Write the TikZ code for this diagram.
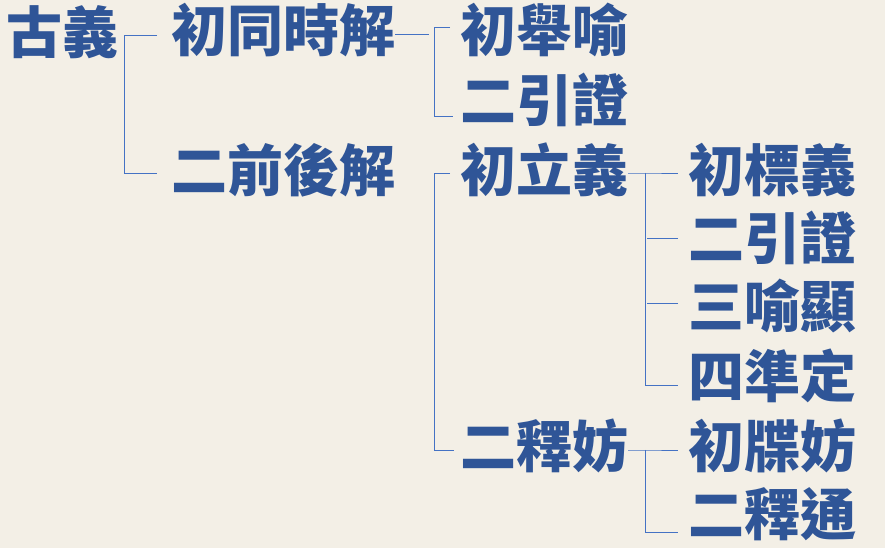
\documentclass[tikz,border=0pt]{standalone}
\usepackage{fontspec}
\newfontfamily\cjkfont{Noto Sans CJK TC}
\definecolor{paper}{HTML}{F3EFE6}
\definecolor{ink}{HTML}{2F5597}
\definecolor{rule}{HTML}{4472C4}
\begin{document}
\begin{tikzpicture}[x=1pt,y=1pt,
  lbl/.style={anchor=west,inner sep=0pt,text=ink,font=\cjkfont\bfseries\fontsize{56}{60}\selectfont},
  brk/.style={draw=rule,line width=0.8pt}]
\fill[paper] (0,0) rectangle (885,548);
\useasboundingbox (0,0) rectangle (885,548);
\node[lbl] (gu) at (6,516) {古義};
\node[lbl] (tong) at (171,518) {初同時解};
\node[lbl] (qianhou) at (171,378) {二前後解};
\node[lbl] (ju) at (460,518) {初舉喻};
\node[lbl] (yin1) at (460,448) {二引證};
\node[lbl] (lili) at (460,378) {初立義};
\node[lbl] (shifang) at (460,102) {二釋妨};
\node[lbl] (biao) at (688,378) {初標義};
\node[lbl] (yin2) at (688,310) {二引證};
\node[lbl] (yu) at (688,242) {三喻顯};
\node[lbl] (zhun) at (688,172) {四準定};
\node[lbl] (die) at (688,102) {初牒妨};
\node[lbl] (tong2) at (688,34) {二釋通};
% first level
\draw[brk] ([xshift=-14pt,yshift=-5pt]tong.west) -- ++(-33pt,0) |- ([xshift=-14pt,yshift=-3pt]qianhou.west);
% 初同時解
\draw[brk] ([yshift=-4pt]tong.east) -- ++(34pt,0);
\draw[brk] ([xshift=-10pt,yshift=3pt]ju.west) -- ++(-16pt,0) |- ([xshift=-7pt,yshift=-16pt]yin1.west);
% 二前後解
\draw[brk] ([xshift=-10pt,yshift=-3pt]lili.west) -- ++(-16pt,0) |- ([xshift=-6pt,yshift=-4pt]shifang.west);
% 初立義
\draw[brk] ([yshift=-3pt]lili.east) -- ++(17pt,0) coordinate (lj) -- ([xshift=-10pt,yshift=-3pt]biao.west);
\draw[brk] (lj) |- ([xshift=-10pt,yshift=-9pt]zhun.west);
\draw[brk] ([xshift=-10pt]yin2.west) -- ++(-31pt,0);
\draw[brk] ([xshift=-10pt,yshift=3pt]yu.west) -- ++(-31pt,0);
% 二釋妨
\draw[brk] ([yshift=-4pt]shifang.east) -- ++(17pt,0) coordinate (sj) -- ([xshift=-10pt,yshift=-4pt]die.west);
\draw[brk] (sj) |- ([xshift=-10pt,yshift=-18pt]tong2.west);
\end{tikzpicture}
\end{document}
